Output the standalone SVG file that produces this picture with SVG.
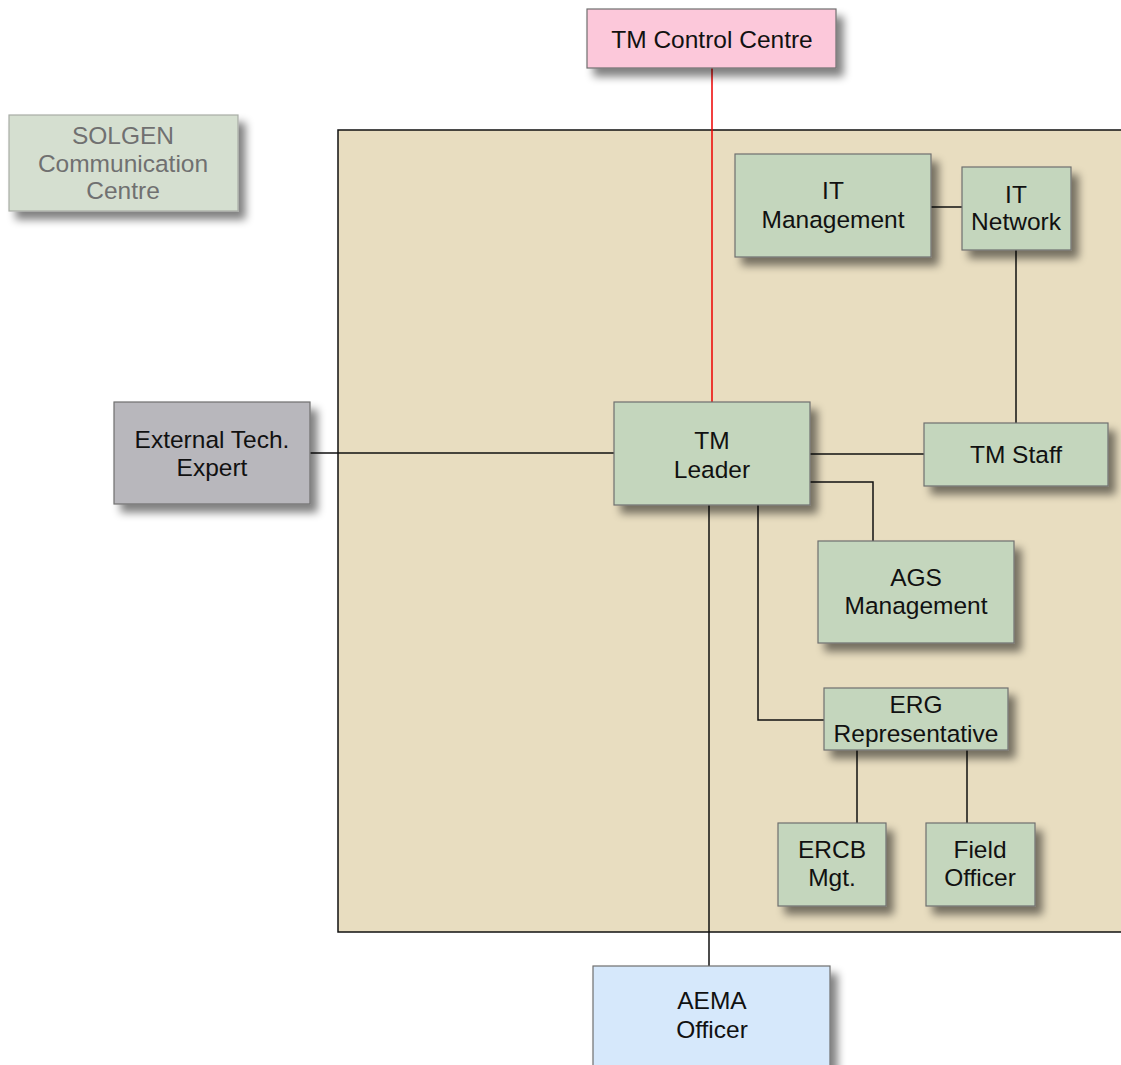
<svg xmlns="http://www.w3.org/2000/svg" width="1121" height="1065" viewBox="0 0 1121 1065">
<defs>
<filter id="sh" x="-20%" y="-20%" width="150%" height="160%">
<feGaussianBlur in="SourceAlpha" stdDeviation="4"/>
<feOffset dx="7" dy="8" result="b"/>
<feComponentTransfer><feFuncA type="linear" slope="0.5"/></feComponentTransfer>
<feMerge><feMergeNode/><feMergeNode in="SourceGraphic"/></feMerge>
</filter>
<style>
.n{stroke:#6f6f6f;stroke-width:1.2;filter:url(#sh)}
.g{fill:#c4d6bd}
.t{font-family:"Liberation Sans",Arial,sans-serif;font-size:24.5px;fill:#111;text-anchor:middle}
.s{fill:#707070}
.c{stroke:#111;stroke-width:1.5;fill:none}
</style>
</defs>
<rect width="1121" height="1065" fill="#fff"/>
<rect id="area" x="338" y="130" width="790" height="802" fill="#e8ddc0" stroke="#111" stroke-width="1.5"/>
<g id="connectors">
<line x1="712" y1="68" x2="712" y2="402" stroke="#e00" stroke-width="1.5"/>
<line class="c" x1="310" y1="453" x2="614" y2="453"/>
<line class="c" x1="810" y1="454" x2="924" y2="454"/>
<line class="c" x1="931" y1="207" x2="962" y2="207"/>
<line class="c" x1="1016" y1="250" x2="1016" y2="423"/>
<polyline class="c" points="810,482 873,482 873,541"/>
<polyline class="c" points="758,505 758,720 824,720"/>
<line class="c" x1="857" y1="750" x2="857" y2="823"/>
<line class="c" x1="967" y1="750" x2="967" y2="823"/>
<line class="c" x1="709" y1="505" x2="709" y2="966"/>
</g>
<g id="tm-control-centre"><rect class="n" x="587" y="9" width="249" height="59" fill="#fcc8da"/><text class="t" x="712" y="48">TM Control Centre</text></g>
<g id="solgen"><rect class="n" x="9" y="115" width="229" height="96" fill="#d5dfd0" style="stroke:#a8aca6"/><text class="t s" x="123" y="144">SOLGEN</text><text class="t s" x="123" y="172">Communication</text><text class="t s" x="123" y="199">Centre</text></g>
<g id="it-management"><rect class="n g" x="735" y="154" width="196" height="103"/><text class="t" x="833" y="199">IT</text><text class="t" x="833" y="228">Management</text></g>
<g id="it-network"><rect class="n g" x="962" y="167" width="109" height="83"/><text class="t" x="1016" y="203">IT</text><text class="t" x="1016" y="230">Network</text></g>
<g id="external-tech-expert"><rect class="n" x="114" y="402" width="196" height="102" fill="#b8b7bc"/><text class="t" x="212" y="448">External Tech.</text><text class="t" x="212" y="476">Expert</text></g>
<g id="tm-leader"><rect class="n g" x="614" y="402" width="196" height="103"/><text class="t" x="712" y="449">TM</text><text class="t" x="712" y="478">Leader</text></g>
<g id="tm-staff"><rect class="n g" x="924" y="423" width="184" height="63"/><text class="t" x="1016" y="463">TM Staff</text></g>
<g id="ags-management"><rect class="n g" x="818" y="541" width="196" height="102"/><text class="t" x="916" y="586">AGS</text><text class="t" x="916" y="614">Management</text></g>
<g id="erg-representative"><rect class="n g" x="824" y="688" width="184" height="62"/><text class="t" x="916" y="713">ERG</text><text class="t" x="916" y="742">Representative</text></g>
<g id="ercb-mgt"><rect class="n g" x="778" y="823" width="108" height="83"/><text class="t" x="832" y="858">ERCB</text><text class="t" x="832" y="886">Mgt.</text></g>
<g id="field-officer"><rect class="n g" x="926" y="823" width="109" height="83"/><text class="t" x="980" y="858">Field</text><text class="t" x="980" y="886">Officer</text></g>
<g id="aema-officer"><rect class="n" x="593" y="966" width="237" height="110" fill="#d6e8fb"/><text class="t" x="712" y="1009">AEMA</text><text class="t" x="712" y="1038">Officer</text></g>
</svg>
